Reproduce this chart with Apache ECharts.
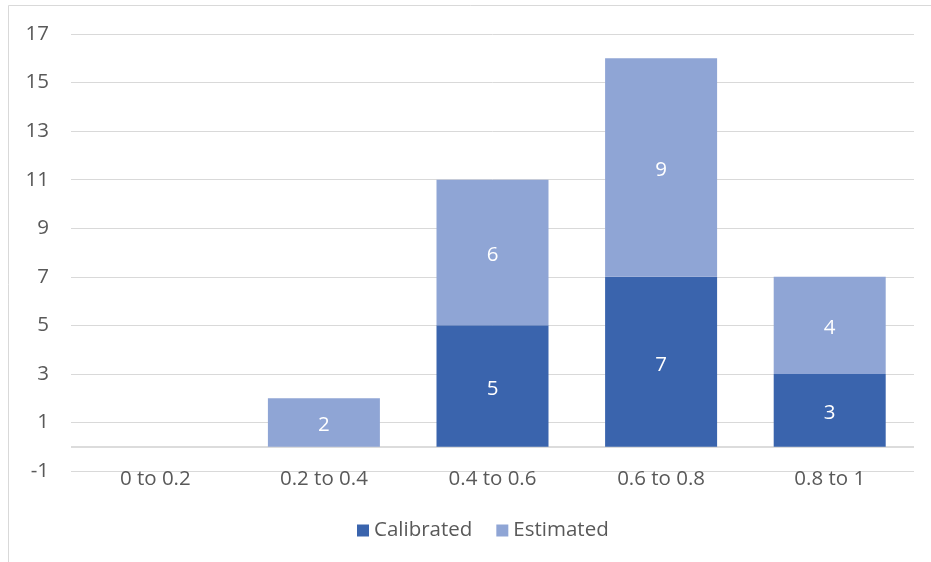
<!DOCTYPE html>
<html>
<head>
<meta charset="utf-8">
<script src="https://cdn.jsdelivr.net/npm/echarts@6/dist/echarts.min.js"></script>
<style>
  html, body { margin: 0; padding: 0; background: #fff; }
  #chart { width: 931px; height: 562px; }
</style>
</head>
<body>
<div id="chart"></div>
<script>
// Bins of the score range and counts per group
const categories = ['0 to 0.2', '0.2 to 0.4', '0.4 to 0.6', '0.6 to 0.8', '0.8 to 1'];
const calibrated = [0, 0, 5, 7, 3];
const estimated = [0, 2, 6, 9, 4];
const yTicks = [-1, 1, 3, 5, 7, 9, 11, 13, 15, 17];

const FONT = '"Open Sans", "Noto Sans", sans-serif';
const TEXT = '#595959';
const SIZE = 20.5;

const chart = echarts.init(document.getElementById('chart'), null, { renderer: 'canvas' });

const labelFor = {
  show: true,
  position: 'inside',
  offset: [0, 3],
  color: '#ffffff',
  fontFamily: FONT,
  fontSize: SIZE,
  formatter: p => (p.value === 0 ? '' : String(p.value))
};

chart.setOption({
  animation: false,
  backgroundColor: '#ffffff',
  graphic: [{
    type: 'rect',
    shape: { x: 8.5, y: 5.5, width: 940, height: 600 },
    style: { fill: 'none', stroke: '#d9d9d9', lineWidth: 1 },
    silent: true,
    z: -10
  }],
  grid: { left: 71, right: 17, top: 34, bottom: 91, containLabel: false },
  legend: {
    left: 352,
    top: 515,
    itemWidth: 12,
    itemHeight: 12,
    itemGap: 24,
    icon: 'rect',
    textStyle: { color: TEXT, fontFamily: FONT, fontSize: SIZE, padding: [0, 0, 0, 0] },
    data: ['Calibrated', 'Estimated']
  },
  xAxis: {
    type: 'category',
    data: categories,
    axisLine: { show: false },
    axisTick: { show: false },
    axisLabel: {
      color: TEXT,
      fontFamily: FONT,
      fontSize: SIZE,
      margin: 8,
      verticalAlign: 'middle'
    }
  },
  yAxis: {
    type: 'value',
    min: yTicks[0],
    max: yTicks[yTicks.length - 1],
    interval: 2,
    axisLine: { show: false },
    axisTick: { show: false },
    splitLine: { lineStyle: { color: '#d9d9d9', width: 1 } },
    axisLabel: {
      color: TEXT,
      fontFamily: FONT,
      fontSize: SIZE,
      margin: 22
    }
  },
  series: [
    {
      name: 'Calibrated',
      type: 'bar',
      stack: 'total',
      barWidth: 112,
      data: calibrated,
      itemStyle: { color: '#3a64ad' },
      label: labelFor,
      markLine: {
        silent: true,
        symbol: 'none',
        label: { show: false },
        lineStyle: { color: '#d0d0d0', width: 1.5, type: 'solid' },
        data: [{ yAxis: 0 }],
        z: 1
      }
    },
    {
      name: 'Estimated',
      type: 'bar',
      stack: 'total',
      barWidth: 112,
      data: estimated,
      itemStyle: { color: '#8fa5d5' },
      label: labelFor
    }
  ]
});
</script>
</body>
</html>
